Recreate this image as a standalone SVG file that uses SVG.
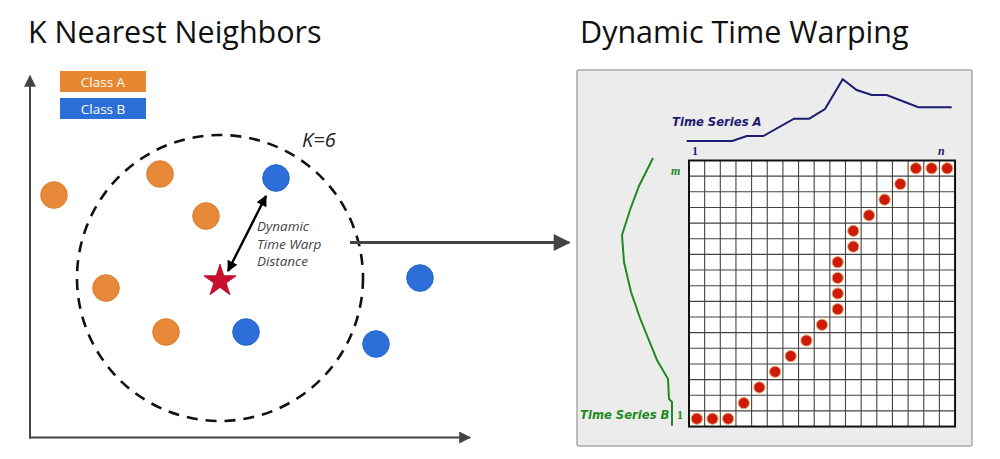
<svg xmlns="http://www.w3.org/2000/svg" width="1000" height="459" viewBox="0 0 1000 459">
<style>
.title{font-family:"Open Sans","Liberation Sans",sans-serif;font-size:30.5px;fill:#111}
.leg{font-family:"Open Sans","Liberation Sans",sans-serif;font-size:13.5px;fill:#fff;text-anchor:middle}
.ann{font-family:"Open Sans","Liberation Sans",sans-serif;font-style:italic;font-size:13.5px;fill:#444}
.k{font-family:"Open Sans","Liberation Sans",sans-serif;font-style:italic;font-size:20px;fill:#222}
.orange{fill:#e8893a;stroke:#de7d2a;stroke-width:1}
.blue{fill:#2c6fd8;stroke:#2263cc;stroke-width:1}
.axis{stroke:#444;stroke-width:2;fill:none}
.ts{font-family:"DejaVu Sans","Liberation Sans",sans-serif;font-weight:bold;font-style:italic;font-size:11.6px}
.idx{font-family:"Liberation Serif",serif;font-weight:bold;font-size:12px}
.grid{stroke:#444;stroke-width:1.1;fill:none}
.dot{fill:#cc1a0b;stroke:#f0a868;stroke-width:1}
</style>
<defs>
<marker id="axhead" viewBox="0 0 10 10" refX="9" refY="5" markerWidth="17" markerHeight="12" markerUnits="userSpaceOnUse" orient="auto">
<path d="M0 0L10 5L0 10z" fill="#444"/>
</marker>
<marker id="bighead" viewBox="0 0 10 10" refX="9" refY="5" markerWidth="26" markerHeight="17" markerUnits="userSpaceOnUse" orient="auto">
<path d="M0 0L10 5L0 10z" fill="#444"/>
</marker>
<marker id="blk" viewBox="0 0 10 10" refX="9" refY="5" markerWidth="15" markerHeight="11" markerUnits="userSpaceOnUse" orient="auto-start-reverse">
<path d="M0 0L10 5L0 10z" fill="#000"/>
</marker>
<circle id="d" r="5.6"/>
</defs>
<rect width="1000" height="459" fill="#fff"/>

<g id="titles">
<text class="title" x="28" y="43">K Nearest Neighbors</text>
<text class="title" x="580" y="43">Dynamic Time Warping</text>
</g>

<g id="knn-axes">
<path class="axis" d="M30 438.5V76" marker-end="url(#axhead)"/>
<path class="axis" d="M29 437.5H470" marker-end="url(#axhead)"/>
</g>

<g id="legend">
<g id="legend-class-a">
<rect x="60" y="71" width="86" height="21" fill="#e8872f"/>
<text class="leg" x="103" y="86.5">Class A</text>
</g>
<g id="legend-class-b">
<rect x="60" y="98" width="86" height="21" fill="#2d6fd8"/>
<text class="leg" x="103" y="113.5">Class B</text>
</g>
</g>

<g id="k-neighborhood">
<circle cx="220" cy="278" r="143" fill="none" stroke="#111" stroke-width="2.6" stroke-dasharray="11 8"/>
<text class="k" x="302" y="147">K=6</text>
</g>

<g id="class-a-points">
<circle class="orange" cx="54" cy="195" r="13.3"/>
<circle class="orange" cx="160" cy="174" r="13.3"/>
<circle class="orange" cx="206" cy="216" r="13.3"/>
<circle class="orange" cx="106" cy="288" r="13.3"/>
<circle class="orange" cx="166" cy="332" r="13.3"/>
</g>
<g id="class-b-points">
<circle class="blue" cx="276" cy="178" r="13.3"/>
<circle class="blue" cx="246" cy="332" r="13.3"/>
<circle class="blue" cx="420" cy="278" r="13.3"/>
<circle class="blue" cx="376" cy="344" r="13.3"/>
</g>

<g id="query-star">
<polygon points="220,264 223.8,275.7 236.2,275.8 226.2,283 230,294.8 220,287.5 210,294.8 213.8,283 203.8,275.8 216.2,275.7" fill="#c8102e" stroke="#b00a20" stroke-width="0.8"/>
</g>

<g id="distance-label">
<text class="ann" x="257" y="231">Dynamic</text>
<text class="ann" x="257" y="248.5">Time Warp</text>
<text class="ann" x="257" y="266">Distance</text>
</g>

<g id="connectors">
<line x1="228" y1="271" x2="266" y2="196" stroke="#000" stroke-width="2.4" marker-start="url(#blk)" marker-end="url(#blk)"/>
<line x1="350" y1="242.5" x2="569" y2="242.5" stroke="#444" stroke-width="3" marker-end="url(#bighead)"/>
</g>

<g id="dtw-panel">
<rect x="577" y="70" width="395" height="376" fill="#ececec" stroke="#a9a9a9" stroke-width="1.5" rx="2"/>
</g>

<g id="time-series-a">
<polyline points="686.7,141 732.3,141 746.7,136 763.3,136 794,118.7 809.3,118.7 825,109 842.7,79.3 856.7,90 871.7,95 886.7,95 918.3,107.3 951.7,107.3" fill="none" stroke="#1c1c70" stroke-width="2"/>
<text class="ts" x="672" y="125.5" fill="#1c1c70">Time Series A</text>
<text class="idx" x="692" y="155" fill="#1c1c70">1</text>
<text class="idx" x="938" y="155" fill="#1c1c70" font-style="italic">n</text>
</g>

<g id="time-series-b">
<polyline points="653,158 647,170 639,186 630,210 622,235 624,262 631,292 640,318 648,338 657,360 668,379 669,399 672,402 672,426" fill="none" stroke="#1f8a1f" stroke-width="2"/>
<text class="ts" x="580" y="418.5" fill="#1f8a1f">Time Series B</text>
<text class="idx" x="677" y="419" fill="#1f8a1f" font-weight="normal" font-size="11px">1</text>
<text class="idx" x="671" y="175" fill="#1f8a1f" font-style="italic" font-size="14px">m</text>
</g>

<g id="dtw-grid">
<rect x="689" y="160.5" width="266.05" height="266.05" fill="#fff"/>
<path class="grid" d="M704.65 160.5V426.55M720.3 160.5V426.55M735.95 160.5V426.55M751.6 160.5V426.55M767.25 160.5V426.55M782.9 160.5V426.55M798.55 160.5V426.55M814.2 160.5V426.55M829.85 160.5V426.55M845.5 160.5V426.55M861.15 160.5V426.55M876.8 160.5V426.55M892.45 160.5V426.55M908.1 160.5V426.55M923.75 160.5V426.55M939.4 160.5V426.55M689 176.15H955.05M689 191.8H955.05M689 207.45H955.05M689 223.1H955.05M689 238.75H955.05M689 254.4H955.05M689 270.05H955.05M689 285.7H955.05M689 301.35H955.05M689 317H955.05M689 332.65H955.05M689 348.3H955.05M689 363.95H955.05M689 379.6H955.05M689 395.25H955.05M689 410.9H955.05"/>
<rect x="689" y="160.5" width="266.05" height="266.05" fill="none" stroke="#111" stroke-width="2"/>
</g>

<g id="warping-path" class="dot">
<use href="#d" x="696.8" y="418.7"/>
<use href="#d" x="712.5" y="418.7"/>
<use href="#d" x="728.1" y="418.7"/>
<use href="#d" x="743.8" y="403.1"/>
<use href="#d" x="759.4" y="387.4"/>
<use href="#d" x="775.1" y="371.8"/>
<use href="#d" x="790.7" y="356.1"/>
<use href="#d" x="806.4" y="340.5"/>
<use href="#d" x="822" y="324.8"/>
<use href="#d" x="837.7" y="309.2"/>
<use href="#d" x="837.7" y="293.5"/>
<use href="#d" x="837.7" y="277.9"/>
<use href="#d" x="837.7" y="262.2"/>
<use href="#d" x="853.3" y="246.6"/>
<use href="#d" x="853.3" y="230.9"/>
<use href="#d" x="869" y="215.3"/>
<use href="#d" x="884.6" y="199.6"/>
<use href="#d" x="900.3" y="184"/>
<use href="#d" x="915.9" y="168.3"/>
<use href="#d" x="931.6" y="168.3"/>
<use href="#d" x="947.2" y="168.3"/>
</g>
</svg>
